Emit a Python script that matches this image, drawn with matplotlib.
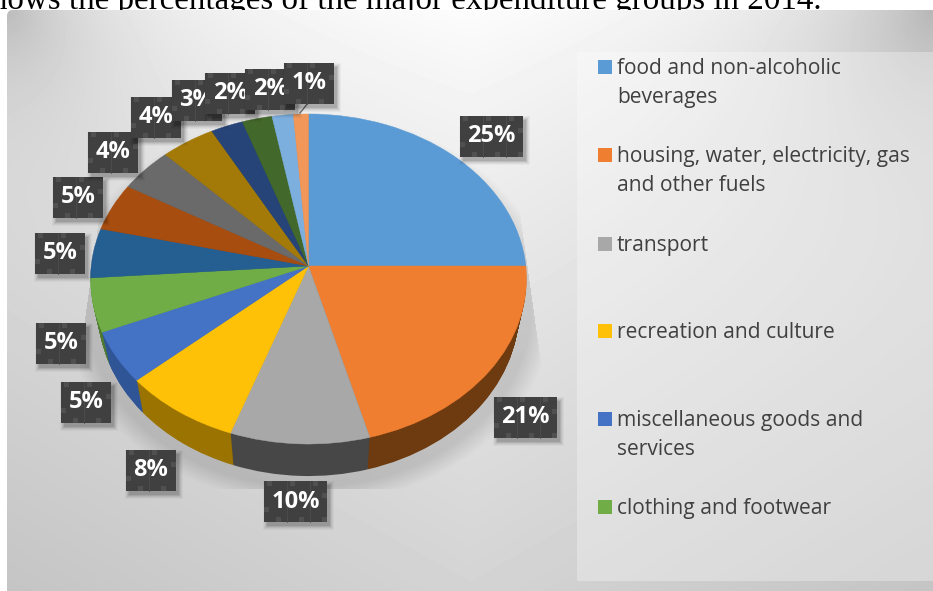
import numpy as np
import matplotlib
matplotlib.use('Agg')
import matplotlib.pyplot as plt
from matplotlib.patches import Rectangle, FancyBboxPatch
from matplotlib.transforms import Affine2D, Transform

W, H = 933, 591

# share of each expenditure group, clockwise from the top
shares = [25.0, 20.8, 9.6, 8.1, 5.1, 5.25, 4.85, 4.7, 4.35, 4.35, 2.6, 2.4, 1.7, 1.2]
slice_colors = ['#5B9BD5', '#F07E30', '#A8A8A8', '#FFC107', '#4472C4', '#70AD47',
                '#255E91', '#A84D10', '#6A6A6A', '#A37A08', '#264478', '#43682B',
                '#7CAFDD', '#F1975A']
wall_colors = ['#3D6A92', '#6E3A0F', '#474747', '#9A7300', '#2F5597', '#4E7A32',
               '#1A4265', '#6E340B', '#444444', '#6E5706', '#1A3054', '#2E481E',
               '#5A80A0', '#A86A40']

# only the first six groups fit in the legend of the original
legend_labels = ['food and non-alcoholic\nbeverages',
                 'housing, water, electricity, gas\nand other fuels',
                 'transport',
                 'recreation and culture',
                 'miscellaneous goods and\nservices',
                 'clothing and footwear']

title_text = 'shows the percentages of the major expenditure groups in 2014.'

# where the data labels sit, in image pixels (box centres)
label_pos = [(491, 136.5), (525.5, 417), (295.5, 501.5), (151, 470), (86, 402), (61, 343),
             (60, 253), (78, 197), (113, 152), (156, 117), (197, 100), (230, 93),
             (270, 89), (309, 83)]
legend_y = [67, 155, 244, 331, 419, 507]

PIE_CX, PIE_CY = 308.5, 266
WALL_PX = 32
DEPTH_LAYERS = 36


class Tilt(Transform):
    # perspective of the disc, unit circle -> image pixels around the hub
    input_dims = 2
    output_dims = 2
    k, a, b = 0.0788, 217.3, 164.0

    def transform_non_affine(self, values):
        values = np.asarray(values, dtype=float)
        w = 1 + self.k * values[:, 1]
        return np.column_stack((PIE_CX + self.a * values[:, 0] / w,
                                PIE_CY - self.b * values[:, 1] / w))


def make_background():
    yy, xx = np.mgrid[0:H, 0:W]
    v = 1 - 0.17 * (yy / H) ** 0.8 - 0.06 * np.abs(xx - 470) / 466
    # darker top corners
    v -= 0.2 * np.exp(-np.hypot(xx - 7, yy - 10) / 90)
    v -= 0.22 * np.exp(-np.hypot(xx - 933, yy - 10) / 110)
    # soft shadow under the pie, cut off by its box, tapering up the sides
    d = np.hypot((xx - 308.5) / 222, (yy - 308) / 178)
    shadow = 0.11 * np.clip((1.1 - d) / 0.1, 0, 1)
    right_edge = np.minimum(527 + 0.14 * (yy - 266), 541)
    left_edge = np.maximum(90 - 0.14 * (yy - 280), 80)
    shadow[(xx < left_edge) | (xx > right_edge) | (yy > 488)] = 0
    v -= shadow
    return np.clip(v, 0, 1)


def draw_label(ax, text, cx, cy, z):
    w = 50 if len(text) == 2 else 63
    h = 41
    x0, y0 = cx - w / 2, cy - h / 2
    for grow, alpha in [(4, 0.03), (3, 0.04), (2, 0.06), (1, 0.08), (0, 0.1)]:
        ax.add_patch(Rectangle((x0 + 3 - grow, y0 + 4 - grow), w + 2 * grow, h + 2 * grow,
                               fc='black', ec='none', alpha=alpha, zorder=z))
    ax.add_patch(Rectangle((x0, y0), w, h, fc='#404040', ec='none', zorder=z))
    # the little squares and seams of the label texture
    for off in range(3, w - 4, 23):
        ax.add_patch(Rectangle((x0 + off, y0), 5, 5, fc='#505050', ec='none', zorder=z))
    for off in range(12, w - 4, 23):
        ax.add_patch(Rectangle((x0 + off, y0 + h - 5), 5, 5, fc='#505050', ec='none', zorder=z))
    for off in range(23, w - 4, 23):
        ax.plot([x0 + off, x0 + off], [y0, y0 + h], color='#4e4e4e', lw=0.6, zorder=z)
    ax.add_patch(Rectangle((x0, y0 + 26), 5, 5, fc='#505050', ec='none', zorder=z))
    ax.add_patch(Rectangle((x0 + w - 5, y0 + 12), 5, 5, fc='#505050', ec='none', zorder=z))
    ax.text(cx, cy, text, color='white', fontsize=17, fontweight='bold',
            family='Open Sans', ha='center', va='center', zorder=z)


def main():
    fig = plt.figure(figsize=(W / 100, H / 100), dpi=100, facecolor='white')

    # backdrop in image pixel coordinates
    bg = fig.add_axes([0, 0, 1, 1])
    bg.set_xlim(0, W)
    bg.set_ylim(H, 0)
    bg.axis('off')
    im = bg.imshow(make_background(), cmap='gray', vmin=0, vmax=1, extent=(0, W, H, 0),
                   aspect='auto', interpolation='bilinear', zorder=1)
    frame = FancyBboxPatch((12, 15), W, H, boxstyle='round,pad=5,rounding_size=6',
                           fc='none', ec='none', transform=bg.transData)
    bg.add_patch(frame)
    im.set_clip_path(frame)
    bg.add_patch(Rectangle((577, 52), W - 577, 529, fc='white', ec='none', alpha=0.3, zorder=2))
    bg.text(822, 8.5, title_text, family='Liberation Serif', fontsize=23.8, color='black',
            ha='right', va='baseline', zorder=0)

    # pie: the wall is a stack of darker pies, each a bit lower and narrower
    pie_ax = fig.add_axes([0, 0, 1, 1])
    pie_ax.patch.set_alpha(0)
    tilt = Tilt()
    for t in np.linspace(1, 0.03, DEPTH_LAYERS):
        layer = (Affine2D().translate(-PIE_CX, 0).scale(1 - 0.035 * t, 1)
                 .translate(PIE_CX, WALL_PX * t))
        pie_ax.pie(shares, colors=wall_colors, startangle=90, counterclock=False,
                   wedgeprops={'linewidth': 0, 'clip_on': False,
                               'transform': tilt + layer + pie_ax.transData})
    wedges, _ = pie_ax.pie(shares, colors=slice_colors, startangle=90, counterclock=False,
                           wedgeprops={'linewidth': 0.3, 'clip_on': False,
                                       'transform': tilt + pie_ax.transData})
    for wedge in wedges:
        wedge.set_edgecolor(wedge.get_facecolor())
    pie_ax.set_aspect('auto')
    pie_ax.set_xlim(0, W)
    pie_ax.set_ylim(H, 0)
    pie_ax.axis('off')

    # labels and legend over everything
    over = fig.add_axes([0, 0, 1, 1])
    over.set_xlim(0, W)
    over.set_ylim(H, 0)
    over.axis('off')
    over.plot([308, 300], [103, 113], color='#707070', lw=1, zorder=3)
    for i, (share, (cx, cy)) in enumerate(zip(shares, label_pos)):
        draw_label(over, f'{share:.0f}%', cx, cy, 5 + i)

    for label, color, y in zip(legend_labels, slice_colors, legend_y):
        over.add_patch(Rectangle((598, y - 7), 14, 14, fc=color, ec='none', zorder=3))
        over.text(617, y - 9, label, family='Open Sans', fontsize=15.1, color='#404040',
                  ha='left', va='top', linespacing=1.5, zorder=3)

    fig.savefig('out.png', dpi=100)


if __name__ == "__main__":
    main()
